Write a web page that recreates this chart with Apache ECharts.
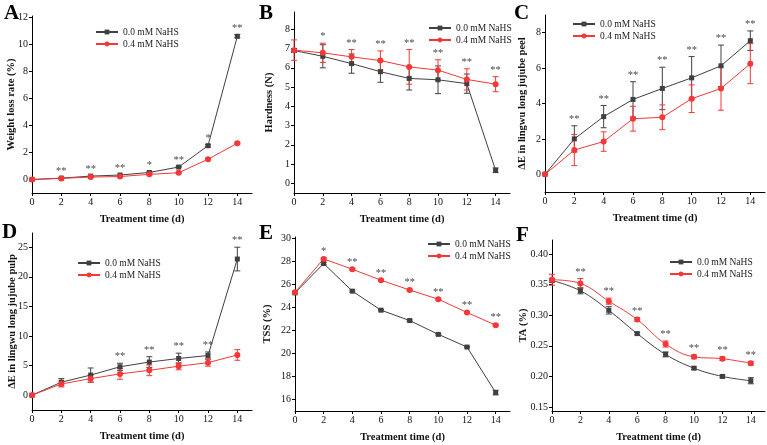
<!DOCTYPE html>
<html>
<head>
<meta charset="utf-8">
<script src="https://cdn.jsdelivr.net/npm/echarts@6/dist/echarts.min.js"></script>
<style>
  html, body { margin: 0; padding: 0; background: #fff; }
  #chart { width: 767px; height: 445px; }
</style>
</head>
<body>
<div id="chart"></div>
<script>
// sampling days and tick labels
const days = [0, 2, 4, 6, 8, 10, 12, 14];
const dayTicks = [0, 2, 4, 6, 8, 10, 12, 14];
const names = ['0.0 mM NaHS', '0.4 mM NaHS'];

// A weight loss rate
const weightCtrl = [0, 0.1, 0.25, 0.33, 0.52, 0.92, 2.5, 10.6];
const weightCtrlSd = [0.02, 0.03, 0.03, 0.03, 0.04, 0.05, 0.08, 0.12];
const weightNahs = [0, 0.08, 0.18, 0.22, 0.38, 0.5, 1.5, 2.68];
const weightNahsSd = [0.02, 0.02, 0.03, 0.03, 0.03, 0.04, 0.06, 0.06];
const weightSig = ['', '**', '**', '**', '*', '**', '*', '**'];
const weightTicks = [0, 2, 4, 6, 8, 10, 12];

// B hardness
const hardCtrl = [6.9, 6.6, 6.22, 5.8, 5.45, 5.38, 5.18, 0.68];
const hardCtrlSd = [0.1, 0.6, 0.5, 0.55, 0.6, 0.72, 0.5, 0.12];
const hardNahs = [6.92, 6.78, 6.57, 6.38, 6.05, 5.88, 5.4, 5.15];
const hardNahsSd = [0.53, 0.5, 0.38, 0.5, 0.9, 0.54, 0.55, 0.39];
const hardSig = ['', '*', '**', '**', '**', '**', '**', '**'];
const hardTicks = [0, 1, 2, 3, 4, 5, 6, 7, 8];

// C peel colour difference
const peelCtrl = [0, 2.0, 3.26, 4.23, 4.85, 5.45, 6.13, 7.55];
const peelCtrlSd = [0, 0.74, 0.63, 1.0, 1.2, 1.2, 1.17, 0.55];
const peelNahs = [0, 1.37, 1.85, 3.14, 3.22, 4.27, 4.85, 6.25];
const peelNahsSd = [0, 0.88, 0.55, 0.7, 0.7, 0.78, 1.23, 1.13];
const peelSig = ['', '**', '**', '**', '**', '**', '**', '**'];
const peelTicks = [0, 2, 4, 6, 8];

// D pulp colour difference
const pulpCtrl = [0, 2.2, 3.4, 4.8, 5.6, 6.2, 6.7, 23.0];
const pulpCtrlSd = [0, 0.6, 1.2, 0.6, 0.9, 0.9, 0.6, 2.0];
const pulpNahs = [0, 1.9, 2.8, 3.6, 4.2, 4.9, 5.5, 6.8];
const pulpNahsSd = [0, 0.5, 0.6, 0.9, 0.9, 0.6, 0.6, 0.9];
const pulpSig = ['', '', '', '**', '**', '**', '**', '**'];
const pulpTicks = [0, 5, 10, 15, 20, 25];

// E TSS
const tssCtrl = [25.25, 27.8, 25.4, 23.75, 22.85, 21.65, 20.55, 16.6];
const tssCtrlSd = [0.08, 0.1, 0.08, 0.06, 0.06, 0.06, 0.06, 0.2];
const tssNahs = [25.3, 28.2, 27.3, 26.35, 25.5, 24.7, 23.55, 22.45];
const tssNahsSd = [0.08, 0.1, 0.08, 0.08, 0.08, 0.08, 0.08, 0.08];
const tssSig = ['', '*', '**', '**', '**', '**', '**', '**'];
const tssTicks = [16, 18, 20, 22, 24, 26, 28, 30];

// F TA
const taCtrl = [0.357, 0.34, 0.308, 0.27, 0.236, 0.2135, 0.2, 0.193];
const taCtrlSd = [0.003, 0.005, 0.006, 0.002, 0.004, 0.002, 0.002, 0.005];
const taNahs = [0.358, 0.352, 0.323, 0.293, 0.253, 0.232, 0.229, 0.2215];
const taNahsSd = [0.009, 0.008, 0.005, 0.003, 0.005, 0.003, 0.003, 0.003];
const taSig = ['', '**', '**', '**', '**', '**', '**', '**'];
const taTicks = [0.15, 0.2, 0.25, 0.3, 0.35, 0.4];

const FONT = 'Liberation Serif';
const BLACK = '#404040';
const RED = '#f43838';

var dom = document.getElementById('chart');
var myChart = echarts.init(dom);

var grids = [], xAxes = [], yAxes = [], series = [], legends = [], titles = [];

function errorBars(params, api) {
    var x = api.value(0);
    var lo = api.coord([x, api.value(1)]);
    var hi = api.coord([x, api.value(2)]);
    var w = 3;
    var st = { stroke: api.visual('color'), lineWidth: 1 };
    return {
        type: 'group',
        children: [
            { type: 'line', shape: { x1: lo[0], y1: lo[1], x2: hi[0], y2: hi[1] }, style: st },
            { type: 'line', shape: { x1: lo[0] - w, y1: lo[1], x2: lo[0] + w, y2: lo[1] }, style: st },
            { type: 'line', shape: { x1: hi[0] - w, y1: hi[1], x2: hi[0] + w, y2: hi[1] }, style: st }
        ]
    };
}

function sigMarks(marks) {
    return function (params, api) {
        var txt = marks[params.dataIndex];
        if (!txt) return null;
        var p = api.coord([api.value(0), api.value(1)]);
        return {
            type: 'text',
            x: p[0],
            y: p[1] - 1,
            style: {
                text: txt, fill: '#4a4a4a', font: '10.5px "' + FONT + '"',
                align: 'center', verticalAlign: 'bottom'
            }
        };
    };
}

// p: letter, pos, grid box, axis ranges, names, data arrays
function panel(p) {
    var i = grids.length;
    grids.push({ left: p.box[0], top: p.box[1], width: p.box[2], height: p.box[3] });
    titles.push({
        text: p.letter, left: p.letterPos[0], top: p.letterPos[1], padding: 0,
        textStyle: { fontFamily: FONT, fontSize: 21, fontWeight: 'bold', color: '#000' }
    });
    xAxes.push({
        type: 'value', gridIndex: i, min: 0, max: 15,
        name: 'Treatment time (d)', nameLocation: 'middle', nameGap: 21, nameMoveOverlap: false,
        nameTextStyle: { fontFamily: FONT, fontSize: 10.5, fontWeight: 'bold', color: '#111' },
        axisLine: { onZero: false, lineStyle: { color: '#000', width: 1 } },
        axisTick: { length: 3, customValues: dayTicks, lineStyle: { color: '#000' } },
        axisLabel: { customValues: dayTicks, margin: 4, fontFamily: FONT, fontSize: 10, color: '#111' },
        splitLine: { show: false }
    });
    yAxes.push({
        type: 'value', gridIndex: i, min: p.yMin, max: p.yMax,
        name: p.yName, nameLocation: 'middle', nameGap: p.nameGap, nameMoveOverlap: false,
        nameTextStyle: { fontFamily: FONT, fontSize: 10.5, fontWeight: 'bold', color: '#111' },
        axisLine: { show: true, onZero: false, lineStyle: { color: '#000', width: 1 } },
        axisTick: { show: true, length: 3, customValues: p.ticks, lineStyle: { color: '#000' } },
        axisLabel: {
            customValues: p.ticks, margin: 4, fontFamily: FONT, fontSize: 10, color: '#111',
            formatter: p.fmt || null
        },
        splitLine: { show: false }
    });

    var sets = [
        { name: names[0], mean: p.ctrl, sd: p.ctrlSd, color: BLACK, symbol: 'rect' },
        { name: names[1], mean: p.nahs, sd: p.nahsSd, color: RED, symbol: 'circle' }
    ];
    sets.forEach(function (s) {
        series.push({
            type: 'custom', xAxisIndex: i, yAxisIndex: i, renderItem: errorBars,
            itemStyle: { color: s.color }, clip: false, silent: true, z: 1,
            encode: { x: 0, y: [1, 2] },
            data: days.map(function (d, k) { return [d, s.mean[k] - s.sd[k], s.mean[k] + s.sd[k]]; })
        });
    });
    sets.forEach(function (s) {
        series.push({
            type: 'line', name: s.name, xAxisIndex: i, yAxisIndex: i,
            smooth: p.smooth || false,
            symbol: s.symbol, symbolSize: s.symbol === 'rect' ? 5 : 6,
            itemStyle: { color: s.color }, lineStyle: { color: s.color, width: 1 },
            z: 3,
            data: days.map(function (d, k) { return [d, s.mean[k]]; })
        });
    });
    // significance stars sit above the higher error bar
    series.push({
        type: 'custom', xAxisIndex: i, yAxisIndex: i, renderItem: sigMarks(p.sig),
        clip: false, silent: true, z: 4,
        encode: { x: 0, y: 1 },
        data: days.map(function (d, k) {
            return [d, Math.max(p.ctrl[k] + p.ctrlSd[k], p.nahs[k] + p.nahsSd[k])];
        })
    });

    legends.push({
        data: names, orient: 'vertical', left: p.legend[0], top: p.legend[1],
        itemWidth: 22, itemHeight: 6, itemGap: 2, padding: 0,
        textStyle: { fontFamily: FONT, fontSize: 9.5, color: '#222' }
    });
}

panel({
    letter: 'A', letterPos: [4, 3], box: [32, 16, 220, 177], yMin: -1, yMax: 12.1,
    yName: 'Weight loss rate (%)', nameGap: 15, ticks: weightTicks,
    ctrl: weightCtrl, ctrlSd: weightCtrlSd, nahs: weightNahs, nahsSd: weightNahsSd, sig: weightSig,
    legend: [95, 27]
});
panel({
    letter: 'B', letterPos: [259, 3], box: [294, 12, 216, 181], yMin: -0.5, yMax: 8.9,
    yName: 'Hardness (N)', nameGap: 19, ticks: hardTicks,
    ctrl: hardCtrl, ctrlSd: hardCtrlSd, nahs: hardNahs, nahsSd: hardNahsSd, sig: hardSig,
    legend: [428, 23]
});
panel({
    letter: 'C', letterPos: [514, 3], box: [545, 15, 220, 177], yMin: -1, yMax: 9,
    yName: 'ΔE in lingwu long jujube peel', nameGap: 17, ticks: peelTicks,
    ctrl: peelCtrl, ctrlSd: peelCtrlSd, nahs: peelNahs, nahsSd: peelNahsSd, sig: peelSig,
    legend: [572, 19]
});
panel({
    letter: 'D', letterPos: [2, 222], box: [32, 233, 220, 177], yMin: -2.5, yMax: 27.4,
    yName: 'ΔE in lingwu long jujube pulp', nameGap: 14, ticks: pulpTicks,
    ctrl: pulpCtrl, ctrlSd: pulpCtrlSd, nahs: pulpNahs, nahsSd: pulpNahsSd, sig: pulpSig,
    legend: [77, 258]
});
panel({
    letter: 'E', letterPos: [259, 223], box: [295, 237, 215, 174], yMin: 15, yMax: 30.1,
    yName: 'TSS (%)', nameGap: 22, ticks: tssTicks,
    ctrl: tssCtrl, ctrlSd: tssCtrlSd, nahs: tssNahs, nahsSd: tssNahsSd, sig: tssSig,
    legend: [427, 239]
});
panel({
    letter: 'F', letterPos: [516, 225], box: [552, 240, 213, 171], yMin: 0.1435, yMax: 0.423,
    yName: 'TA (%)', nameGap: 23, ticks: taTicks, smooth: 0.4,
    fmt: function (v) { return v.toFixed(2); },
    ctrl: taCtrl, ctrlSd: taCtrlSd, nahs: taNahs, nahsSd: taNahsSd, sig: taSig,
    legend: [669, 257]
});

var option = {
    backgroundColor: '#fff',
    animation: false,
    title: titles,
    legend: legends,
    grid: grids,
    xAxis: xAxes,
    yAxis: yAxes,
    series: series
};

if (option && typeof option === 'object') {
    myChart.setOption(option);
}
</script>
</body>
</html>
